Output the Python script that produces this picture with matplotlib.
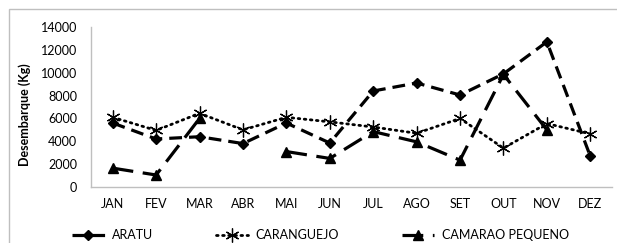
import matplotlib
matplotlib.use('Agg')

import matplotlib.pyplot as plt
import numpy as np
from matplotlib.patches import Rectangle

plt.rcParams['font.family'] = ['Lato', 'DejaVu Sans']

months = ['JAN', 'FEV', 'MAR', 'ABR', 'MAI', 'JUN', 'JUL', 'AGO', 'SET', 'OUT', 'NOV', 'DEZ']
aratu = [5600, 4200, 4400, 3800, 5600, 3850, 8400, 9100, 8050, 9900, 12700, 2700]
caranguejo = [6100, 4950, 6450, 5000, 6100, 5700, 5250, 4700, 6000, 3400, 5550, 4650]
camarao = [1650, 1050, 6000, np.nan, 3100, 2500, 4850, 3950, 2350, 9850, 5000, np.nan]
yticks = [0, 2000, 4000, 6000, 8000, 10000, 12000, 14000]

fig = plt.figure(figsize=(6.17, 2.43), dpi=100)
ax = fig.add_axes([91 / 617, 1 - 187 / 243, (612 - 91) / 617, 160 / 243])

x = np.arange(len(months))
ax.plot(x, aratu, color='black', lw=2.3, ls=(0, (4, 2.2)), marker='D', ms=5.5,
        label='ARATU')
ax.plot(x, caranguejo, color='black', lw=2.0, ls=(0, (0.6, 1.6)), marker=(6, 2, 0),
        ms=10, mew=0.9, dash_capstyle='round', label='CARANGUEJO')
ax.plot(x, camarao, color='black', lw=2.3, ls=(0, (6.5, 3)), marker='^', ms=7,
        label='CAMARAO PEQUENO')

ax.set_xlim(-0.5, 11.5)
ax.set_ylim(0, 14000)
ax.set_xticks(x)
ax.set_xticklabels(months)
ax.set_yticks(yticks)
ax.tick_params(length=0, labelsize=9)
ax.tick_params(axis='x', pad=8)
ax.tick_params(axis='y', pad=10)
for s in ['top', 'right']:
    ax.spines[s].set_visible(False)
for s in ['left', 'bottom']:
    ax.spines[s].set_color('#bfbfbf')
    ax.spines[s].set_linewidth(1)
ax.set_ylabel('Desembarque (Kg)', fontsize=9, fontweight='bold')
ax.yaxis.set_label_coords(-60 / 521, 0.455)

fig.legend(loc='lower left', bbox_to_anchor=(72 / 617, 2 / 243), ncol=3, frameon=False,
           fontsize=9, handlelength=2.6, columnspacing=5.0, handletextpad=0.6,
           borderpad=0, borderaxespad=0)

fig.patches.append(Rectangle((9 / 617, -0.1), 1.2, 1 - 9 / 243 + 0.1,
                             transform=fig.transFigure, fill=False,
                             edgecolor='#bfbfbf', lw=1))

fig.savefig('out.png', dpi=100)
